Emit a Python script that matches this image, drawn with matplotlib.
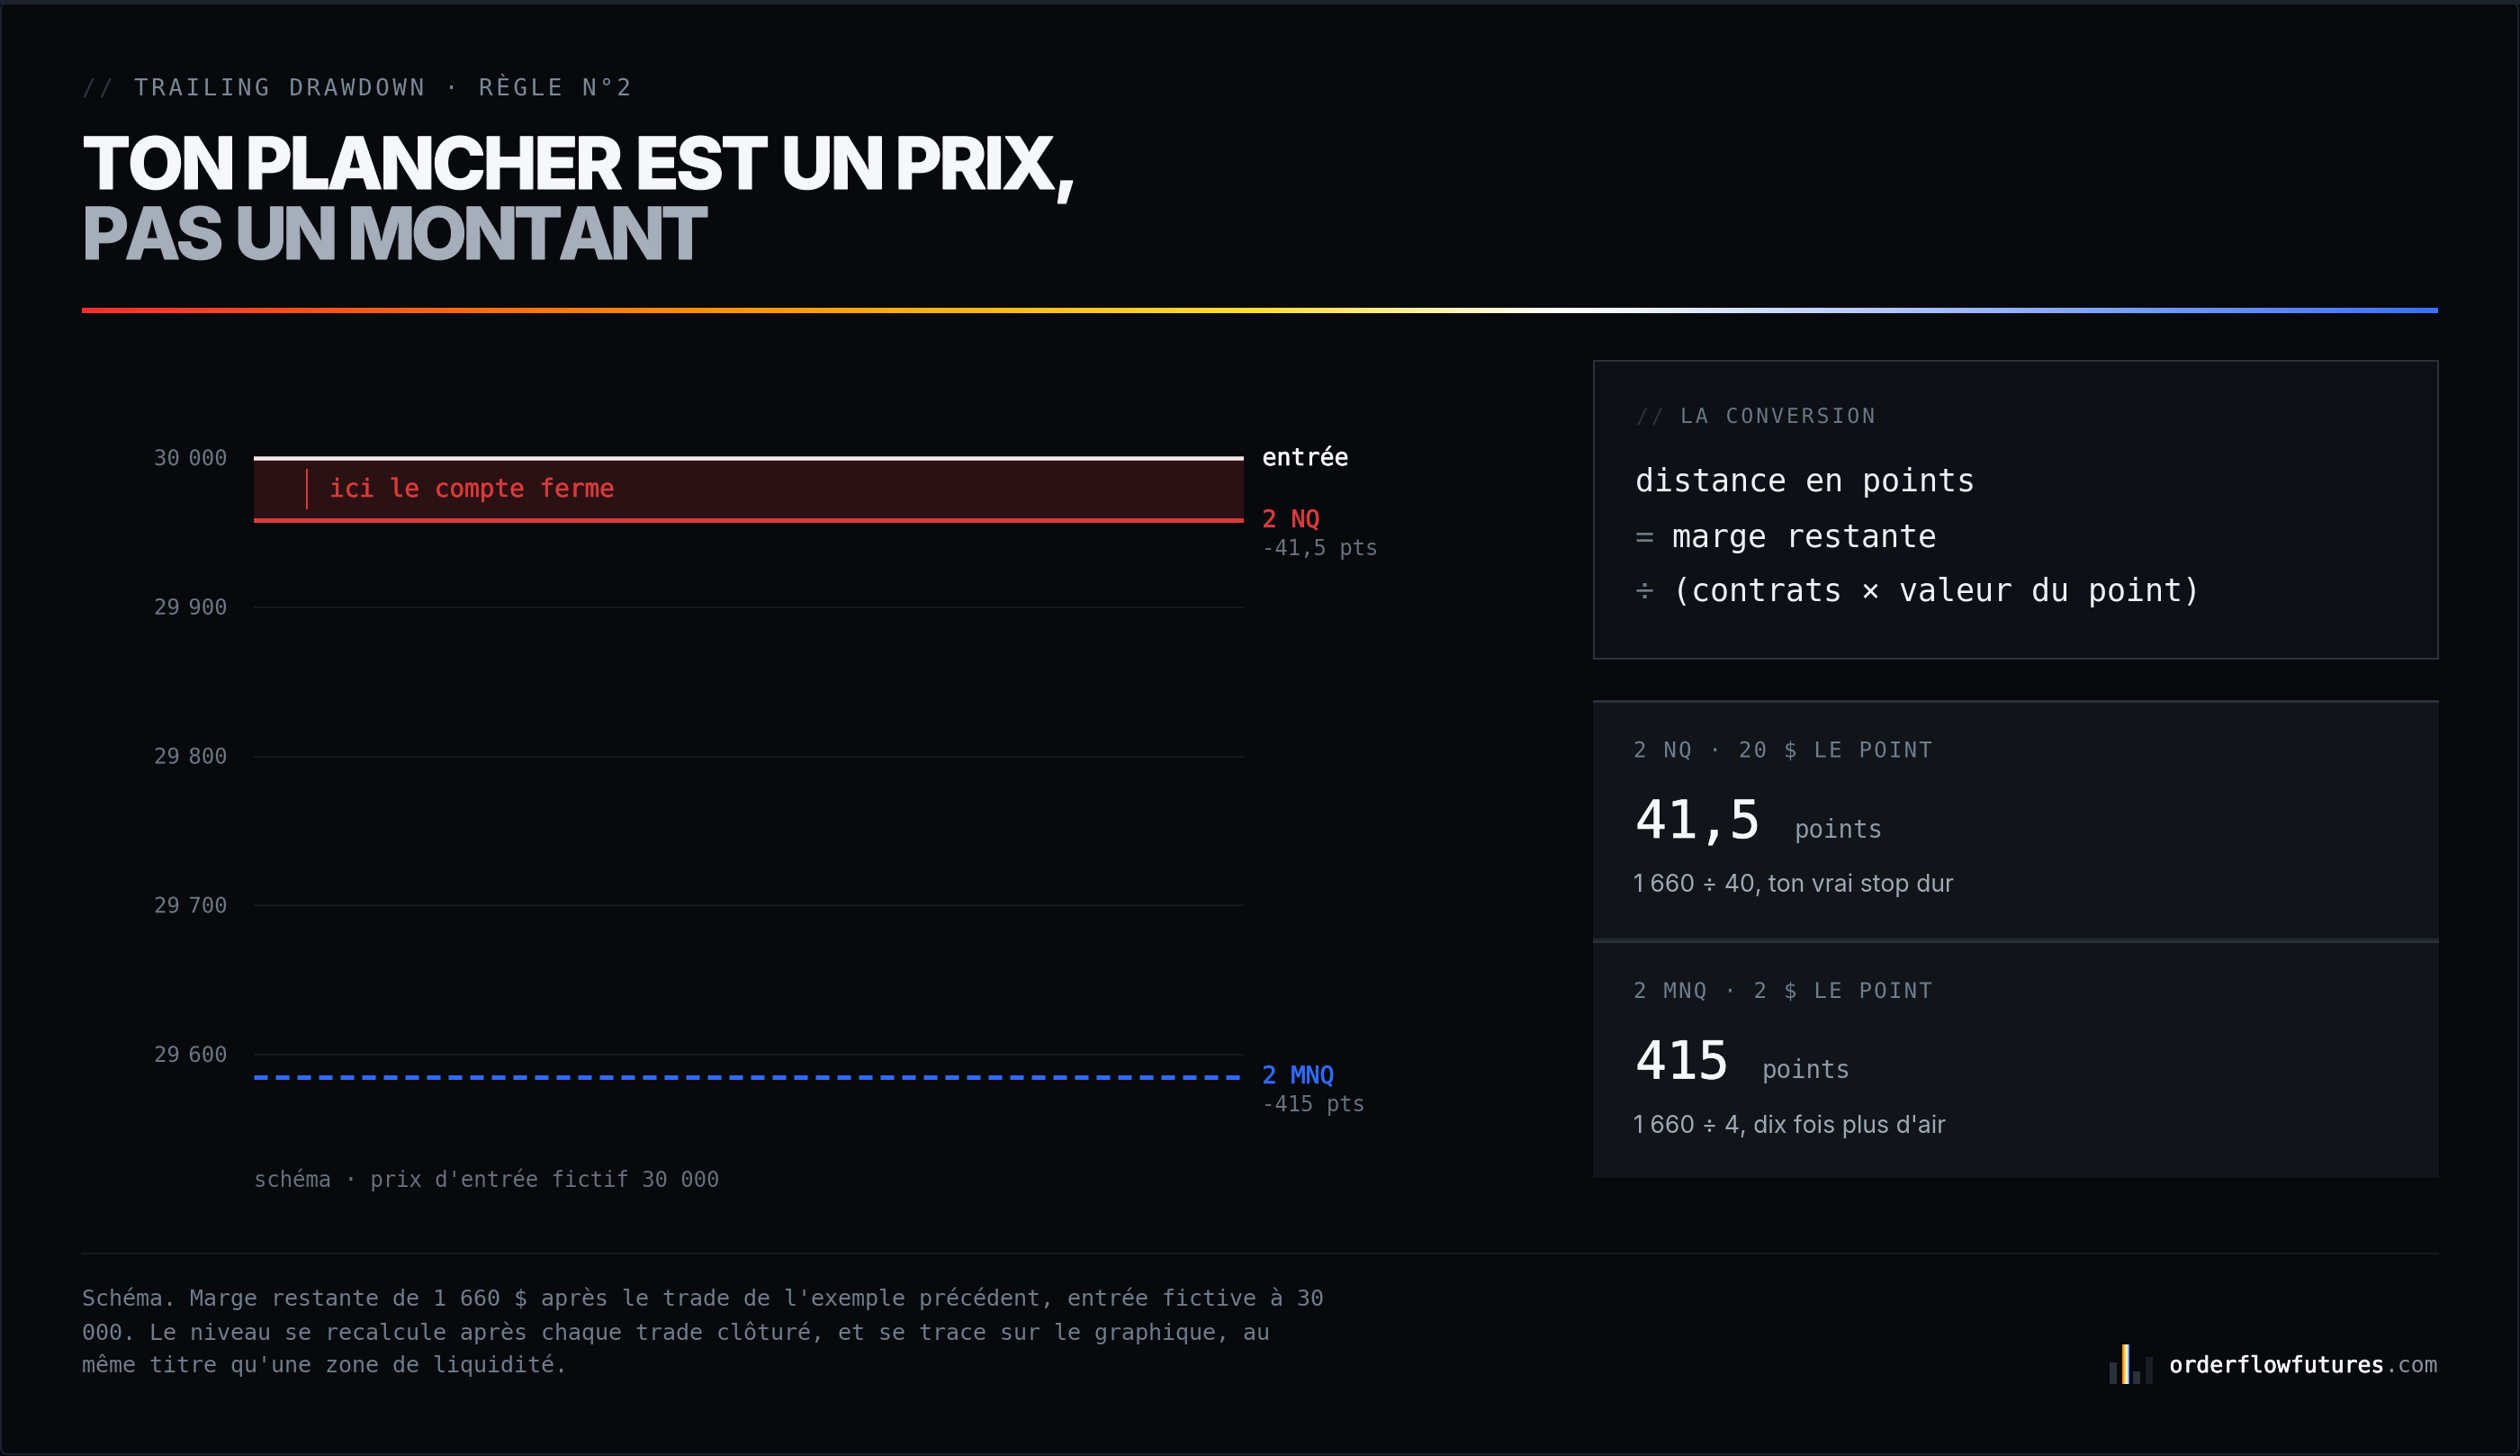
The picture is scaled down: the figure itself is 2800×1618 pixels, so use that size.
import matplotlib
matplotlib.use("Agg")
import matplotlib.pyplot as plt
import numpy as np
from matplotlib.colors import LinearSegmentedColormap
from matplotlib.patches import FancyBboxPatch, Rectangle
from matplotlib.path import Path
from matplotlib.patheffects import AbstractPathEffect, withStroke
from matplotlib.transforms import IdentityTransform, blended_transform_factory

W, H = 2800, 1618
PX = 0.72  # px -> pt at dpi 100

BG = "#07090c"
RED = "#d93a3a"
BLUE = "#2f6bff"
GREY = "#66727f"
DIM = "#2e3540"
WHITE = "#f5f7fa"
SOFT = "#a0a8b4"
LINE = "#2a313b"

MONO = "DejaVu Sans Mono"

# chart values
entry_price = 30000
nq_points = 41.5
mnq_points = 415
tick_values = [30000, 29900, 29800, 29700, 29600]
tick_labels = ["30\u202f000", "29\u202f900", "29\u202f800", "29\u202f700", "29\u202f600"]

# rule gradient
rule_stops = [0.0, 0.25, 0.5, 0.63, 0.84, 1.0]
rule_colors = ["#ff2d2d", "#ff8a00", "#ffdd33", "#ffffff", "#86a8ff", "#3a70ff"]
logo_colors = ["#ff6a00", "#ffd22e", "#ffffff", "#2f6bff"]

# logo bars: left, height, colour
logo_lefts = [2344, 2370, 2384]
logo_heights = [24, 14, 30]
logo_bar_colors = ["#2a313b", "#2a313b", "#1a1e26"]

footer_lines = [
    "Schéma. Marge restante de 1 660 $ après le trade de l'exemple précédent, entrée fictive à 30",
    "000. Le niveau se recalcule après chaque trade clôturé, et se trace sur le graphique, au",
    "même titre qu'une zone de liquidité.",
]


def contours(path):
    starts = np.flatnonzero(path.codes == Path.MOVETO)
    return list(zip(starts, list(starts[1:]) + [len(path.vertices)]))


class MonoSpacing(AbstractPathEffect):
    """Letter spacing for a monospaced text, matplotlib has no option for it."""

    def __init__(self, px, track=0.0, gap_at=0, gap=0.0, dy=0.0):
        super().__init__()
        self.cell = px * 0.602
        self.track, self.gap_at, self.gap, self.dy = track, gap_at, gap, dy

    def draw_path(self, renderer, gc, tpath, affine, rgbFace=None):
        path = affine.transform_path(tpath)
        v = path.vertices.copy()
        x0 = affine.transform((0, 0))[0]
        for a, b in contours(path):
            i = int((v[a:b, 0].mean() - x0) // self.cell)
            v[a:b, 0] += i * self.track + (self.gap if i < self.gap_at else 0)
        v[:, 1] += self.dy
        renderer.draw_path(gc, Path(v, path.codes), IdentityTransform(), rgbFace)


class TightTitle(AbstractPathEffect):
    """Negative tracking for the headline, so it ends at a given width."""

    def __init__(self, target, word_gap, stroke):
        super().__init__()
        self.target, self.word_gap, self.stroke = target, word_gap, stroke

    def draw_path(self, renderer, gc, tpath, affine, rgbFace=None):
        path = affine.transform_path(tpath)
        v = path.vertices.copy()
        parts = sorted(contours(path), key=lambda c: v[c[0]:c[1], 0].min())
        groups = []
        for a, b in parts:
            lo, hi = v[a:b, 0].min(), v[a:b, 0].max()
            # a contour inside the previous one is a counter (O, P, R, A)
            if groups and lo >= groups[-1]["lo"] and hi <= groups[-1]["hi"]:
                groups[-1]["parts"].append((a, b))
            else:
                groups.append({"lo": lo, "hi": hi, "parts": [(a, b)]})
        gaps = [g["lo"] - p["hi"] for p, g in zip(groups, groups[1:])]
        is_word = [g > 16 for g in gaps]
        span = groups[-1]["hi"] - groups[0]["lo"]
        n_word = sum(is_word)
        letters = [g for g, w in zip(gaps, is_word) if not w]
        track = (span - sum(gaps) + sum(letters) + n_word * self.word_gap - self.target) / len(letters)
        shift = 0.0
        for g, gap, word in zip(groups[1:], gaps, is_word):
            shift += (gap - self.word_gap) if word else track
            for a, b in g["parts"]:
                v[a:b, 0] -= shift
        gc0 = renderer.new_gc()
        gc0.copy_properties(gc)
        gc0.set_linewidth(self.stroke)
        gc0.set_foreground(rgbFace)
        gc0.set_joinstyle("miter")
        renderer.draw_path(gc0, Path(v, path.codes), IdentityTransform(), rgbFace)
        gc0.restore()


fig = plt.figure(figsize=(W / 100, H / 100), dpi=100, facecolor=BG)

# full page axes in pixels for everything around the chart
page = fig.add_axes([0, 0, 1, 1])
page.set_xlim(0, W)
page.set_ylim(H, 0)
page.axis("off")


def label(x, y, s, px, color, family=MONO, weight="normal", stroke=0, track=0, **kw):
    t = page.text(x, y, s, fontsize=px * PX, color=color, family=family,
                  weight=weight, va="baseline", ha=kw.pop("ha", "left"), **kw)
    if stroke:
        t.set_path_effects([withStroke(linewidth=stroke, foreground=color)])
    if track:
        t.set_path_effects([MonoSpacing(px, track)])
    return t


def title_line(y, s, color, target):
    t = page.text(91, y, s, fontsize=80 * PX, color=color, family="Inter",
                  weight=800, va="baseline", ha="left")
    t.set_path_effects([TightTitle(target, 15, 0.8)])
    return t


# frame
page.add_patch(FancyBboxPatch((1, 3), W - 3, H - 5, boxstyle="round,pad=0,rounding_size=8",
                              fc="none", ec="#1c222b", lw=1.6))
page.add_patch(Rectangle((0, 0), W, 5, fc="#1c222b", ec="none"))

# header
label(91, 106, "//", 26, DIM, track=3.5)
label(149, 106, "TRAILING DRAWDOWN · RÈGLE N°2", 26, "#7a8899", track=3.5)
title_line(210, "TON PLANCHER EST UN PRIX,", WHITE, 1101)
title_line(288, "PAS UN MONTANT", "#a6aeba", 695)

rule_cmap = LinearSegmentedColormap.from_list("rule", list(zip(rule_stops, rule_colors)))
page.imshow(np.linspace(0, 1, 1024).reshape(1, -1), cmap=rule_cmap, aspect="auto",
            extent=(91, 2709, 348, 342), zorder=2)
page.set_xlim(0, W)
page.set_ylim(H, 0)

# chart
ax = fig.add_axes([282 / W, 1 - 1239 / H, 1100 / W, 760 / H])
ax.patch.set_alpha(0)
px_per_point = 1.6575
ax.set_xlim(0, 1)
ax.set_ylim(entry_price - (1240 - 510) / px_per_point, entry_price + (510 - 480) / px_per_point)
for side in ax.spines.values():
    side.set_visible(False)
ax.set_xticks([])
ax.set_yticks(tick_values)
ax.set_yticklabels(tick_labels, family=MONO, fontsize=24 * PX, color="#6b7785")
ax.tick_params(axis="y", length=0, pad=29 * PX)
for tick_label in ax.get_yticklabels():
    tick_label.set_path_effects([MonoSpacing(24, gap_at=3, gap=5, dy=1.5)])
for v in tick_values:
    ax.axhline(v, color="#14181e", lw=2 * PX, zorder=1)

nq_level = entry_price - nq_points
mnq_level = entry_price - mnq_points
ax.axhspan(nq_level, entry_price, color="#2b1114", lw=0, zorder=2)
ax.axhline(entry_price, color="#f6e9ea", lw=4.5 * PX, zorder=3)
ax.axhline(nq_level, color=RED, lw=5 * PX, zorder=3)
ax.plot([0, 1], [mnq_level, mnq_level], color=BLUE, lw=5 * PX,
        linestyle=(0, (15 / 5, 9 / 5)), dash_capstyle="butt", zorder=3)
ax.plot([59 / 1100, 59 / 1100], [entry_price - 12 / px_per_point, entry_price - 57 / px_per_point],
        color=RED, lw=2 * PX, solid_capstyle="butt", zorder=4)
zone = ax.text(84 / 1100, entry_price - 43 / px_per_point, "ici le compte ferme", fontsize=27.7 * PX,
               color=RED, family=MONO, va="baseline", zorder=5)
zone.set_path_effects([withStroke(linewidth=0.4, foreground=RED)])

label(282, 1319, "schéma · prix d'entrée fictif 30 000", 23.85, "#66707c")

# labels right of the chart sit on the price levels
side = blended_transform_factory(ax.transAxes, ax.transData)
side_x = (1402.5 - 282) / 1100
side_text = dict(transform=side, family=MONO, va="baseline")
for y_off, s, px, color, stroke, level in [
    (8, "entrée", 26.6, WHITE, 0.5, entry_price),
    (8, "2 NQ", 26.6, RED, 0.5, nq_level),
    (39, "-41,5 pts", 23.9, GREY, 0, nq_level),
    (7, "2 MNQ", 26.6, BLUE, 0.5, mnq_level),
    (38, "-415 pts", 23.9, GREY, 0, mnq_level),
]:
    t = ax.text(side_x, level - y_off / px_per_point, s, fontsize=px * PX, color=color, **side_text)
    if stroke:
        t.set_path_effects([withStroke(linewidth=stroke, foreground=color)])

# conversion box
page.add_patch(Rectangle((1771, 401), 938, 331, fc="#0d1014", ec=LINE, lw=2 * PX))
label(1818, 470, "//", 23, DIM, track=3.0)
label(1867, 470, "LA CONVERSION", 23, "#6b7685", track=3.0)
label(1817, 546, "distance en points", 34.9, "#eef1f5")
label(1817, 607.5, "=", 34.9, "#6f7a87")
label(1858.5, 607.5, "marge restante", 34.9, "#eef1f5")
label(1817, 668, "÷", 34.9, "#6f7a87")
label(1858.5, 668, "(contrats × valeur du point)", 34.9, "#eef1f5")

# result cards
card_data = [
    ("2 NQ · 20 $ LE POINT", "41,5", "1 660 ÷ 40, ton vrai stop dur", 778, 841.5, 931, 991, 1994),
    ("2 MNQ · 2 $ LE POINT", "415", "1 660 ÷ 4, dix fois plus d'air", 1045, 1109, 1198.5, 1259, 1957.5),
]
card_heights = [267, 264]
for (head, big, note, top, y1, y2, y3, xp), h in zip(card_data, card_heights):
    page.add_patch(Rectangle((1770, top), 940, h, fc="#11151a", ec="none"))
    page.add_patch(Rectangle((1770, top), 940, 3, fc=LINE, ec="none"))
    label(1815, y1, head, 24, "#6f7d8e", track=2.25)
    label(1817, y2, big, 58, WHITE, stroke=0.5)
    label(xp, y2, "points", 27.5, "#8f98a4")
    label(1815, y3, note, 26.6, SOFT, family="Inter")
page.add_patch(Rectangle((1770, 1042), 940, 3, fc="#1e2329", ec="none"))

# footer
page.plot([91, 2709], [1393, 1393], color="#171b21", lw=2 * PX)
for y, s in zip([1451, 1489, 1525], footer_lines):
    label(91, y, s, 25, "#6f7d8e")

# logo
for x, h, c in zip(logo_lefts, logo_heights, logo_bar_colors):
    page.bar(x + 4, h, width=8, bottom=1538 - h, color=c, lw=0)
logo_cmap = LinearSegmentedColormap.from_list("logo", logo_colors)
page.imshow(np.linspace(0, 1, 64).reshape(1, -1), cmap=logo_cmap, aspect="auto",
            extent=(2358, 2366, 1538, 1494), zorder=2)
page.set_xlim(0, W)
page.set_ylim(H, 0)
label(2410.5, 1525, "orderflowfutures", 24.8, WHITE, stroke=0.5)
label(2709, 1525, ".com", 24.8, "#8a93a0", ha="right")

fig.savefig("out.png", dpi=100, facecolor=BG)
